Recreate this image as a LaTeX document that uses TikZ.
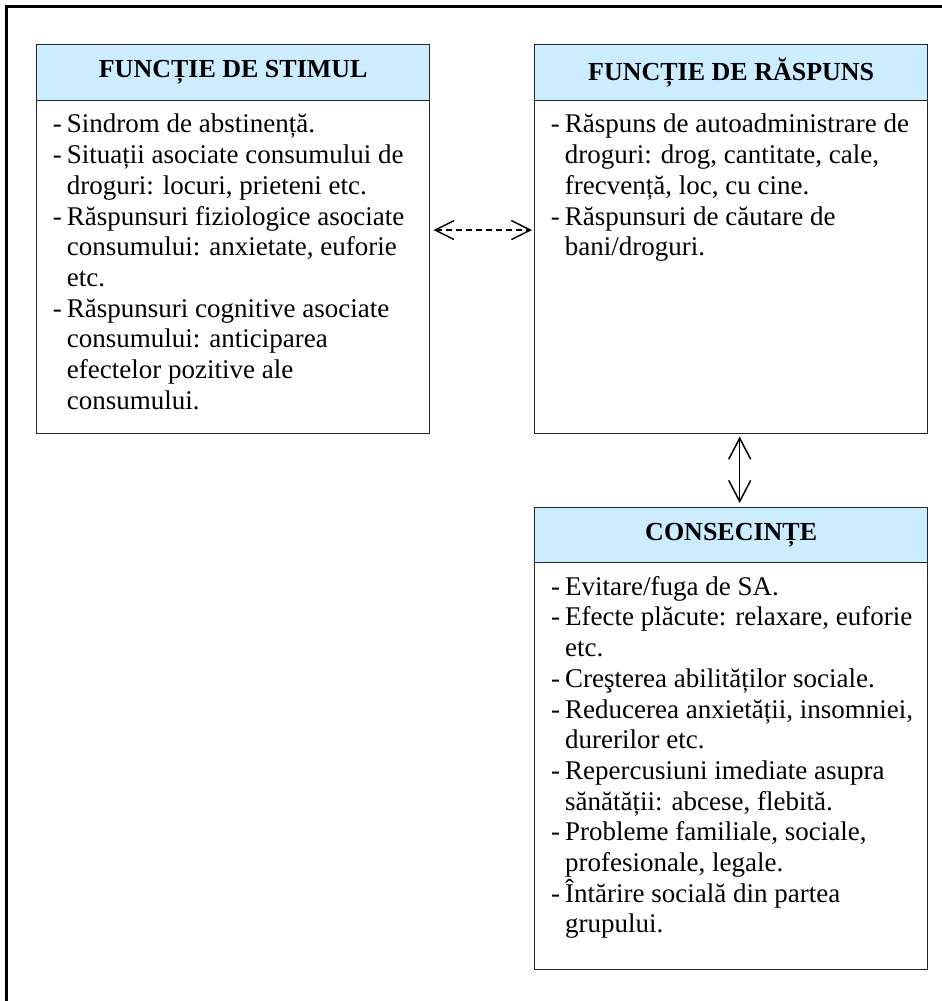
\documentclass[tikz,border=0pt]{standalone}
\usepackage{fontspec}
\setmainfont{Liberation Serif}
\usetikzlibrary{arrows.meta}
\definecolor{hdrblue}{RGB}{204,236,255}
\tikzset{
  hdr/.style={draw=black!85, line width=1.4pt, fill=hdrblue, minimum width=393pt, minimum height=56pt, anchor=north west, inner sep=0pt, font=\fontsize{26pt}{30pt}\selectfont\bfseries},
  bodybox/.style={draw=black!85, line width=1.4pt, minimum width=393pt, anchor=north west, inner sep=0pt},
  bodytext/.style={anchor=north west, inner sep=0pt, align=left, font=\fontsize{27pt}{30.7pt}\selectfont},
  dashedarrow/.style={line width=1.5pt, dash pattern=on 6pt off 4pt, {Straight Barb[length=19pt,width=19pt,line width=1.5pt]}-{Straight Barb[length=19pt,width=19pt,line width=1.5pt]}},
  solidarrow/.style={line width=1.5pt, {Straight Barb[length=21pt,width=22pt,line width=1.5pt]}-{Straight Barb[length=21pt,width=22pt,line width=1.5pt]}}
}
\newcommand{\dsh}{\makebox[14pt][l]{-}}
\newcommand{\ind}{\hspace*{14pt}}
\newcommand{\fst}{\rule{0pt}{25pt}}
\begin{document}
\begin{tikzpicture}[x=1pt,y=-1pt]
\useasboundingbox (0,0) rectangle (942,1001);
\fill[white] (0,0) rectangle (942,1001);
% outer frame (top and left edges visible)
\draw[line width=3pt] (942,6.5) -- (6.5,6.5) -- (6.5,1001);

% boxes
\node[bodybox, minimum height=332.7pt] (sbody) at (36,100) {};
\node[hdr] (shead) at (36,44) {FUNCȚIE DE STIMUL};
\node[bodybox, minimum height=332.7pt] (rbody) at (534,100) {};
\node[hdr] (rhead) at (534,44) {FUNCȚIE DE RĂSPUNS};
\node[bodybox, minimum height=407pt] (cbody) at (534,562) {};
\node[hdr, minimum height=55pt] (chead) at (534,507) {CONSECINȚE};

% texts
\node[bodytext] (stext) at (52.7,107.7) {\fst\dsh Sindrom de abstinență.\\
\dsh Situații asociate consumului de\\
\ind droguri: locuri, prieteni etc.\\
\dsh Răspunsuri fiziologice asociate\\
\ind consumului: anxietate, euforie\\
\ind etc.\\
\dsh Răspunsuri cognitive asociate\\
\ind consumului: anticiparea\\
\ind efectelor pozitive ale\\
\ind consumului.};

\node[bodytext] (rtext) at (550.7,107.7) {\fst\dsh Răspuns de autoadministrare de\\
\ind droguri: drog, cantitate, cale,\\
\ind frecvență, loc, cu cine.\\
\dsh Răspunsuri de căutare de\\
\ind bani/droguri.};

\node[bodytext] (ctext) at (551,570) {\fst\dsh Evitare/fuga de SA.\\
\dsh Efecte plăcute: relaxare, euforie\\
\ind etc.\\
\dsh Creşterea abilităților sociale.\\
\dsh Reducerea anxietății, insomniei,\\
\ind durerilor etc.\\
\dsh Repercusiuni imediate asupra\\
\ind sănătății: abcese, flebită.\\
\dsh Probleme familiale, sociale,\\
\ind profesionale, legale.\\
\dsh Întărire socială din partea\\
\ind grupului.};

% connectors
\draw[dashedarrow] ([xshift=3pt,yshift=37pt]sbody.east) -- ([xshift=-2pt,yshift=37pt]rbody.west);
\draw[solidarrow] ([xshift=8.5pt,yshift=-2.5pt]rbody.south) -- ([xshift=8.5pt,yshift=4pt]chead.north);
\end{tikzpicture}
\end{document}
